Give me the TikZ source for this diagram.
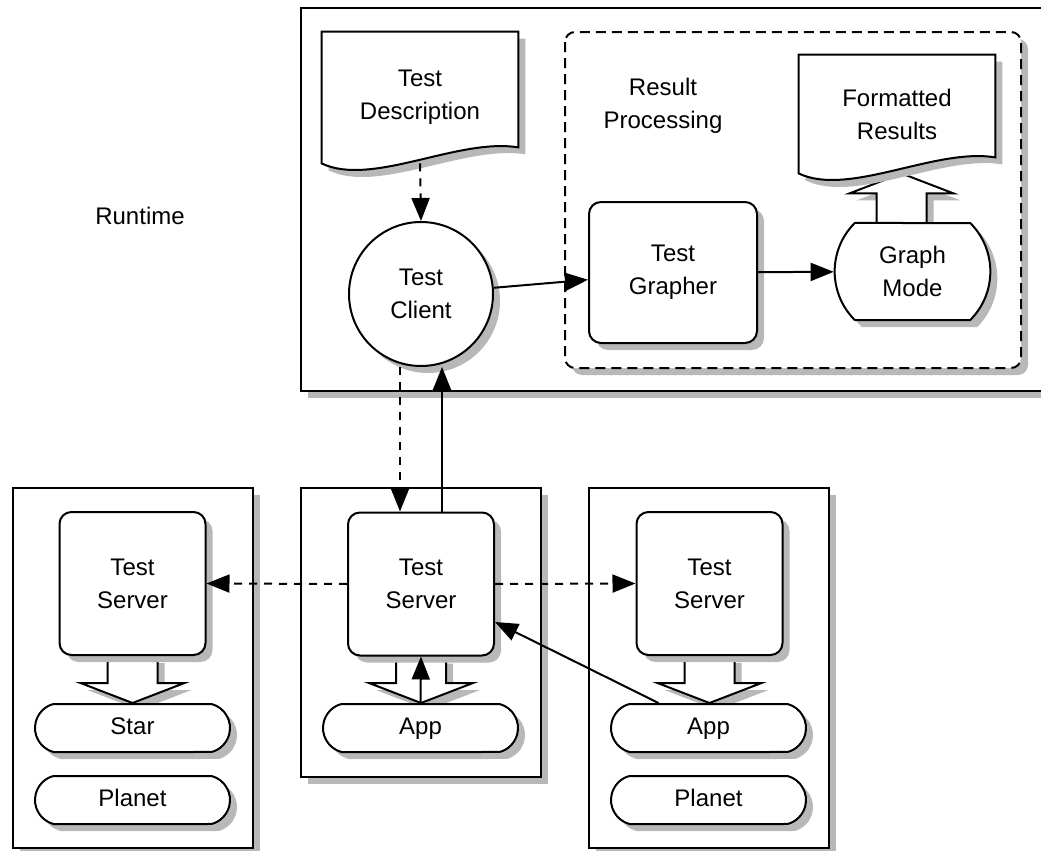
\documentclass[tikz,border=0pt]{standalone}
\usepackage{fontspec}
\setmainfont{Liberation Sans}
\usetikzlibrary{arrows.meta,shapes.misc,shadows,calc}

\pgfdeclarelayer{back}
\pgfdeclarelayer{arrows}
\pgfdeclarelayer{docs}
\pgfsetlayers{back,arrows,docs,main}

\tikzset{
  every node/.style={font=\fontsize{12}{16.5}\selectfont, align=center},
  shadowed/.style={drop shadow={shadow xshift=3.5pt, shadow yshift=-3.5pt, fill=black!28, draw=none, opacity=1}},
  outerbox/.style={draw, fill=white, line width=1.2pt, shadowed},
  groupbox/.style={draw, line width=1pt, dash pattern=on 5pt off 3pt, rounded corners=5pt},
  docbox/.style={draw=none, inner sep=0pt, minimum width=98pt},
  docshape/.style={draw, fill=white, line width=1pt, shadowed},
  procbox/.style={draw, fill=white, line width=1pt, rounded corners=6pt, shadowed},
  roundnode/.style={circle, draw, fill=white, line width=1pt, minimum size=72pt, inner sep=0pt, shadowed},
  drumnode/.style={rounded rectangle, rounded rectangle arc length=90, draw, fill=white, line width=1pt, minimum width=84.5pt, minimum height=48.5pt, shadowed},
  pill/.style={rounded rectangle, rounded rectangle arc length=150, draw, fill=white, line width=1pt, minimum width=97.5pt, minimum height=24pt, inner sep=0pt, text height=8.7pt, text depth=2.5pt, shadowed},
  conn/.style={-{Triangle[length=11.5pt, width=9pt]}, line width=1pt},
  dconn/.style={conn, dash pattern=on 4pt off 3.5pt},
  hollow/.style={draw, fill=white, line width=1pt, shadowed}
}

% document outline round a text node
\newcommand\docpath[1]{%
  \draw[docshape] (#1.north west) -- (#1.north east) -- ([yshift=8pt]#1.south east)
    .. controls ([xshift=-30pt, yshift=13pt]#1.south east) and ([xshift=25pt, yshift=-12pt]#1.south west) .. (#1.south west) -- cycle;}

% hollow block arrow, #3 = 1 upwards, -1 downwards
\newcommand\hollowarrow[3]{%
  \draw[hollow] let \p1=(#1), \p2=(#2) in
    (\x1-12.5pt,\y1) -- (\x1-12.5pt,{\y2-(#3)*10pt}) -- (\x1-26pt,{\y2-(#3)*10pt})
    -- (\x1,\y2) -- (\x1+26pt,{\y2-(#3)*10pt}) -- (\x1+12.5pt,{\y2-(#3)*10pt}) -- (\x1+12.5pt,\y1);}

\begin{document}
\begin{tikzpicture}[x=0.5pt, y=-0.5pt]
\useasboundingbox (0,0) rectangle (1041,851);

% containers
\begin{pgfonlayer}{back}
\draw[outerbox] (301,8) rectangle (1046,391);
\draw[outerbox] (13,488) rectangle (253,848);
\draw[outerbox] (301,488) rectangle (541,777);
\draw[outerbox] (589,488) rectangle (829,848);
\fill[black!28, rounded corners=5pt] (572,39) rectangle (1028,375);
\fill[white, rounded corners=5pt] (565,32) rectangle (1021,368);
\draw[groupbox] (565,32) rectangle (1021,368);
\end{pgfonlayer}

\node (runtime) at (140,216) {Runtime};
\node (resproc) at (663,106) {Result\\Processing};

\node (desc) at (420,97.5) [docbox, minimum height=65.5pt] {Test\\Description};
\node (fmt) at (897,114) [docbox, minimum height=59pt] {Formatted\\Results};
\node (client) at (421,294) [roundnode] {Test\\Client};
\node (grapher) at (673,272.5) [procbox, minimum width=84pt, minimum height=70.5pt] {Test\\Grapher};
\node (graph) at (912.5,271.5) [drumnode] {Graph\\Mode};

\node (srvL) at (132.5,583.5) [procbox, minimum width=73pt, minimum height=71.5pt] {Test\\Server};
\node (srvM) at (421,584) [procbox, minimum width=73pt, minimum height=71.5pt] {Test\\Server};
\node (srvR) at (709.5,583.5) [procbox, minimum width=73pt, minimum height=71.5pt] {Test\\Server};

\node (starL) at (132.5,728) [pill] {Star};
\node (planetL) at (132.5,800) [pill] {Planet};
\node (appM) at (420.5,728) [pill] {App};
\node (appR) at (708.5,728) [pill] {App};
\node (planetR) at (708.5,800) [pill] {Planet};

\begin{pgfonlayer}{docs}
\docpath{desc}
\docpath{fmt}
\end{pgfonlayer}

\begin{pgfonlayer}{arrows}
\hollowarrow{[xshift=-5.5pt]graph.north}{fmt.south}{1}
\hollowarrow{srvL.south}{starL.north}{-1}
\hollowarrow{srvM.south}{appM.north}{-1}
\hollowarrow{srvR.south}{appR.north}{-1}
\end{pgfonlayer}

\draw[dconn] (desc.south) -- (client.north);
\draw[conn] (client) -- (grapher);
\draw[conn] (grapher) -- (graph);
\draw[dconn] ([xshift=-10.5pt]client.south) -- ([xshift=-10.5pt]client.south |- srvM.north);
\draw[conn] ([xshift=10.5pt]client.south |- srvM.north) -- ([xshift=10.5pt]client.south);
\draw[dconn] (srvM.west) -- (srvL.east);
\draw[dconn] (srvM.east) -- (srvR.west);
\draw[conn] (appM.north) -- (srvM.south);
\draw[conn] ([xshift=-25pt]appR.north) -- ([yshift=-19pt]srvM.east);
\end{tikzpicture}
\end{document}
